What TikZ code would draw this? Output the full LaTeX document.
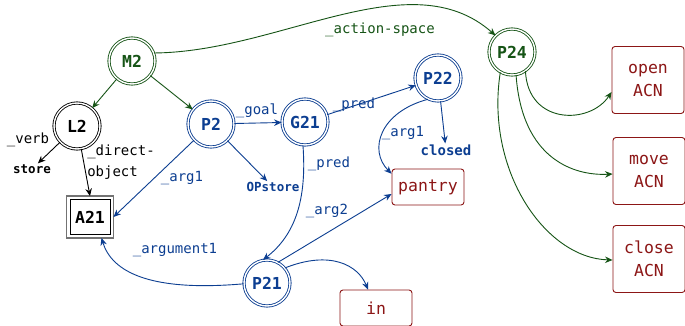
\documentclass[tikz,border=0pt]{standalone}
\usepackage{fontspec}
\setmonofont{DejaVu Sans Mono}
\usetikzlibrary{arrows.meta}

\definecolor{dgreen}{RGB}{22,84,22}
\definecolor{dblue}{RGB}{12,62,145}
\definecolor{dred}{RGB}{140,22,22}

\tikzset{
  concept/.style={circle, draw, double, double distance=1.4pt, line width=0.85pt,
    minimum size=46pt, inner sep=0pt, font=\ttfamily\bfseries\fontsize{16.5}{20}\selectfont},
  greennode/.style={concept, draw=dgreen, text=dgreen},
  bluenode/.style={concept, draw=dblue, text=dblue},
  blacknode/.style={concept, draw=black, text=black},
  argbox/.style={draw=black, line width=0.9pt, minimum width=40pt, minimum height=35pt,
    inner sep=0pt, font=\ttfamily\bfseries\fontsize{16.5}{20}\selectfont},
  leaf/.style={inner sep=1pt, font=\ttfamily\bfseries\fontsize{12.5}{15}\selectfont},
  valbox/.style={draw=dred, text=dred, rounded corners=3pt, line width=0.9pt, align=center,
    minimum width=72pt, minimum height=36pt, inner sep=0pt,
    font=\ttfamily\fontsize{16.5}{23}\selectfont},
  lbl/.style={inner sep=1pt, align=left, font=\ttfamily\fontsize{14}{21}\selectfont},
  arr/.style={-{Stealth[length=7.5pt,width=6.5pt]}, line width=0.9pt},
}

\begin{document}
\begin{tikzpicture}[x=1pt, y=-1pt]
  \fill[white] (0,0) rectangle (685,326);
  \useasboundingbox (0,0) rectangle (685,326);

  % concept nodes
  \node[greennode] (M2)  at (132,61)  {M2};
  \node[blacknode] (L2)  at (77,126)  {L2};
  \node[bluenode]  (P2)  at (211,124) {P2};
  \node[bluenode]  (G21) at (305,122) {G21};
  \node[bluenode]  (P22) at (438,78)  {P22};
  \node[bluenode]  (P21) at (267,283) {P21};
  \node[greennode] (P24) at (512,52)  {P24};

  % argument box with its outer frame
  \node[argbox] (A21) at (90,217) {A21};
  \draw[black!55, line width=1.5pt]
    ([shift={(-3pt,-3pt)}]A21.south west) rectangle ([shift={(3pt,3pt)}]A21.north east);

  % leaf values
  \node[leaf] (store) at (32,169) {store};
  \node[leaf, text=dblue] (OPstore) at (273,187) {OPstore};
  \node[leaf, text=dblue, font=\ttfamily\bfseries\fontsize{14}{16}\selectfont] (closed) at (446,150) {closed};

  % value boxes
  \node[valbox] (pantry) at (428,187) {pantry};
  \node[valbox] (inbox)  at (376,308) {in};
  \node[valbox, minimum height=67pt] (open)  at (648,80)  {open\\ACN};
  \node[valbox, minimum height=67pt] (move)  at (649,171) {move\\ACN};
  \node[valbox, minimum height=67pt] (close) at (649,259) {close\\ACN};

  % green relations
  \draw[arr, dgreen] (M2) -- (L2);
  \draw[arr, dgreen] (M2) -- (P2);
  \draw[arr, dgreen] (M2.20) .. controls (280,52) and (410,-40) .. (P24.135);
  \draw[arr, dgreen] (P24.-55) .. controls (528,125) and (590,125) .. ([yshift=-12pt]open.west);
  \draw[arr, dgreen] (P24.-80) .. controls (522,160) and (575,176) .. ([yshift=-3pt]move.west);
  \draw[arr, dgreen] (P24.-120) .. controls (485,170) and (545,258) .. ([yshift=-1pt]close.west);

  % black relations
  \draw[arr] (L2) -- (store);
  \draw[arr] (L2) -- ([yshift=3pt]A21.north);

  % blue relations
  \draw[arr, dblue] (P2) -- ([xshift=3pt]A21.east);
  \draw[arr, dblue] (P2) -- (G21);
  \draw[arr, dblue] (P2) -- (OPstore);
  \draw[arr, dblue] (G21) -- (P22);
  \draw[arr, dblue] (G21.265) .. controls (307,200) and (295,235) .. (P21.100);
  \draw[arr, dblue] (P22.245) .. controls (380,112) and (368,150) .. (pantry.160);
  \draw[arr, dblue] (P22) -- (closed);
  \draw[arr, dblue] (P21.62) -- ([yshift=-7pt]pantry.west);
  \draw[arr, dblue] (P21.182) .. controls (150,292) and (112,272) .. ([shift={(-9pt,-3pt)}]A21.south east);
  \draw[arr, dblue] (P21.40) .. controls (330,250) and (358,265) .. ([xshift=-8pt]inbox.north);

  % relation labels
  \node[lbl, text=dgreen] (lAction) at (380,30)  {\_action-space};
  \node[lbl]              (lVerb)   at (28,140)  {\_verb};
  \node[lbl]              (lDobj)   at (121,162) {\_direct-\\object};
  \node[lbl, text=dblue]  (lArgA)   at (182,178) {\_arg1};
  \node[lbl, text=dblue]  (lGoal)   at (257,111) {\_goal};
  \node[lbl, text=dblue]  (lPredA)  at (354,105) {\_pred};
  \node[lbl, text=dblue]  (lPredB)  at (329,164) {\_pred};
  \node[lbl, text=dblue]  (lArgB)   at (403,133) {\_arg1};
  \node[lbl, text=dblue]  (lArgC)   at (327,211) {\_arg2};
  \node[lbl, text=dblue]  (lArgum)  at (175,250) {\_argument1};
\end{tikzpicture}
\end{document}
